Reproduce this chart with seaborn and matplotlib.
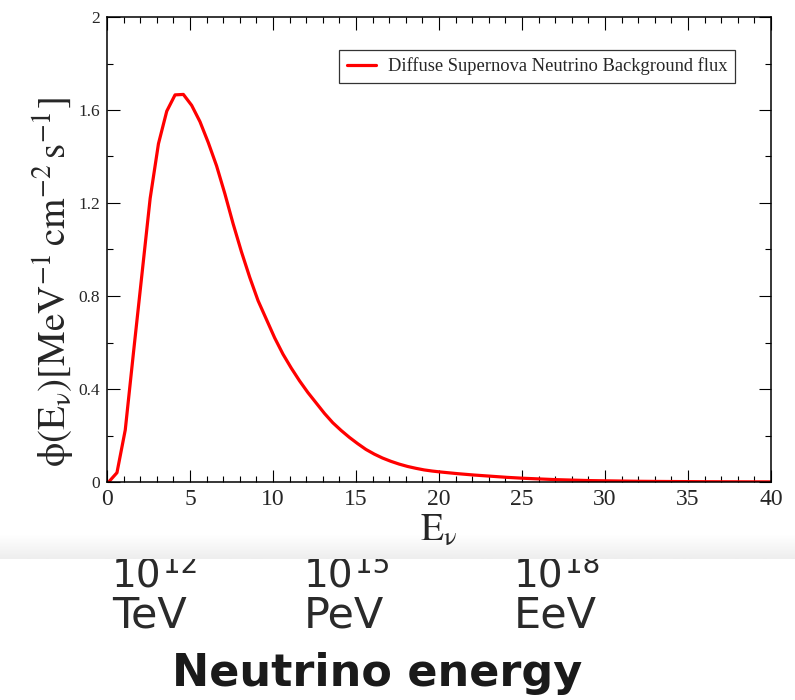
import numpy as np
import pandas as pd
import matplotlib
matplotlib.use("Agg")
import matplotlib.pyplot as plt
import seaborn as sns
from matplotlib.ticker import MultipleLocator

# ---- data ----
energy = [0.1, 0.6, 1.1, 1.6, 2.1, 2.6, 3.1, 3.6, 4.1, 4.6, 5.1, 5.6, 6.1, 6.6,
          7.1, 7.6, 8.1, 8.6, 9.1, 9.6, 10.1, 10.6, 11.1, 11.6, 12.1, 12.6,
          13.1, 13.6, 14.1, 14.6, 15.1, 15.6, 16.1, 16.6, 17.1, 17.6, 18.1,
          18.6, 19.1, 19.6, 20.1, 21.1, 22.1, 23.1, 24.1, 25.1, 26.1, 27.1,
          28.1, 29.1, 30.1, 32.1, 34.1, 36.1, 38.1, 40.0]
flux = [0.0, 0.04, 0.224, 0.56, 0.89, 1.22, 1.455, 1.595, 1.665, 1.667, 1.62,
        1.55, 1.46, 1.36, 1.24, 1.11, 0.99, 0.88, 0.78, 0.70, 0.62, 0.55, 0.49,
        0.435, 0.385, 0.34, 0.295, 0.255, 0.222, 0.192, 0.165, 0.14, 0.12,
        0.103, 0.089, 0.077, 0.067, 0.059, 0.052, 0.047, 0.043, 0.036, 0.03,
        0.025, 0.02, 0.016, 0.013, 0.01, 0.008, 0.006, 0.005, 0.003, 0.002,
        0.0012, 0.0008, 0.0005]
series_label = "Diffuse Supernova Neutrino Background flux"
xticks = [0, 5, 10, 15, 20, 25, 30, 35, 40]
yticks = [0, 0.4, 0.8, 1.2, 1.6, 2]
ytick_labels = ["0", "0.4", "0.8", "1.2", "1.6", "2"]
exponents = ["12", "15", "18"]
units = ["TeV", "PeV", "EeV"]
caption = "Neutrino energy"

df = pd.DataFrame({"E": energy, "flux": flux, "series": series_label})

sns.set_theme(style="ticks")
plt.rcParams["font.family"] = ["Liberation Serif", "DejaVu Serif"]
plt.rcParams["mathtext.fontset"] = "custom"
plt.rcParams["mathtext.rm"] = "STIXGeneral"
plt.rcParams["mathtext.it"] = "STIXGeneral"
plt.rcParams["mathtext.bf"] = "STIXGeneral:bold"

W, H = 795, 700
fig = plt.figure(figsize=(W / 100, H / 100), dpi=100)
fig.patch.set_facecolor("white")

def fx(px):
    return px / W

def fy(py):
    return 1 - py / H

ax = fig.add_axes([fx(107), fy(482), fx(771) - fx(107), fy(17) - fy(482)])
ax.set_zorder(3)

sns.lineplot(data=df, x="E", y="flux", hue="series", palette=["#ff0000"],
             linewidth=2.3, ax=ax, legend=True)

ax.set_xlim(0, 40)
ax.set_ylim(0, 2)
ax.set_xticks(xticks)
ax.set_xticklabels([str(v) for v in xticks])
ax.set_yticks(yticks)
ax.set_yticklabels(ytick_labels)
ax.xaxis.set_minor_locator(MultipleLocator(1))
ax.yaxis.set_minor_locator(MultipleLocator(0.2))
ax.tick_params(which="both", direction="in", top=True, right=True,
               color="black", width=0.8)
ax.tick_params(which="major", length=9)
ax.tick_params(which="minor", length=4.5)
ax.tick_params(axis="x", which="major", labelsize=17, pad=5)
ax.tick_params(axis="y", which="major", labelsize=12.5, pad=5)
for s in ax.spines.values():
    s.set_visible(True)
    s.set_linewidth(1.1)
    s.set_color("black")

ax.set_xlabel(r"$\mathrm{E}_{\nu}$", fontsize=27, labelpad=2)
ax.set_ylabel(r"$\phi(\mathrm{E}_{\nu})[\mathrm{MeV}^{-1}\,"
              r"\mathrm{cm}^{-2}\,\mathrm{s}^{-1}]$",
              fontsize=28)
ax.yaxis.set_label_coords(-0.045, 0.43)

leg = ax.legend(loc="upper right", bbox_to_anchor=(0.946, 0.929),
                borderaxespad=0, fontsize=13.3, frameon=True, fancybox=False,
                handlelength=1.6, handletextpad=0.65, borderpad=0.4)
leg.get_frame().set_edgecolor("black")
leg.get_frame().set_linewidth(0.9)
for line in leg.get_lines():
    line.set_linewidth(2.3)

# ---- bottom strip with gradient ----
strip = fig.add_axes([0, fy(559), 1, fy(535) - fy(559)])
strip.set_zorder(2)
grad = np.linspace(1.0, 0.93, 50).reshape(-1, 1)
strip.imshow(grad, aspect="auto", cmap="gray", vmin=0, vmax=1,
             extent=[0, 1, 0, 1], origin="upper")
strip.set_axis_off()

sans = ["DejaVu Sans"]
col_x = [112, 304, 514]
fig.canvas.draw()
renderer = fig.canvas.get_renderer()
for x0, e, u in zip(col_x, exponents, units):
    t = fig.text(fx(x0), fy(587), "10", fontsize=28, family=sans,
                 color="#2a2a2a", va="baseline", ha="left", zorder=1)
    bb = t.get_window_extent(renderer)
    fig.text(bb.x1 / W + fx(1), fy(573), e, fontsize=20, family=sans,
             color="#2a2a2a", va="baseline", ha="left", zorder=1)
    fig.text(fx(x0), fy(627), u, fontsize=31, family=sans, color="#2a2a2a",
             va="baseline", ha="left", zorder=1)

fig.text(fx(377), fy(686), caption, fontsize=32, family=sans, weight="bold",
         color="#1a1a1a", va="baseline", ha="center", zorder=1)

fig.savefig("out.png", dpi=100, facecolor="white")
